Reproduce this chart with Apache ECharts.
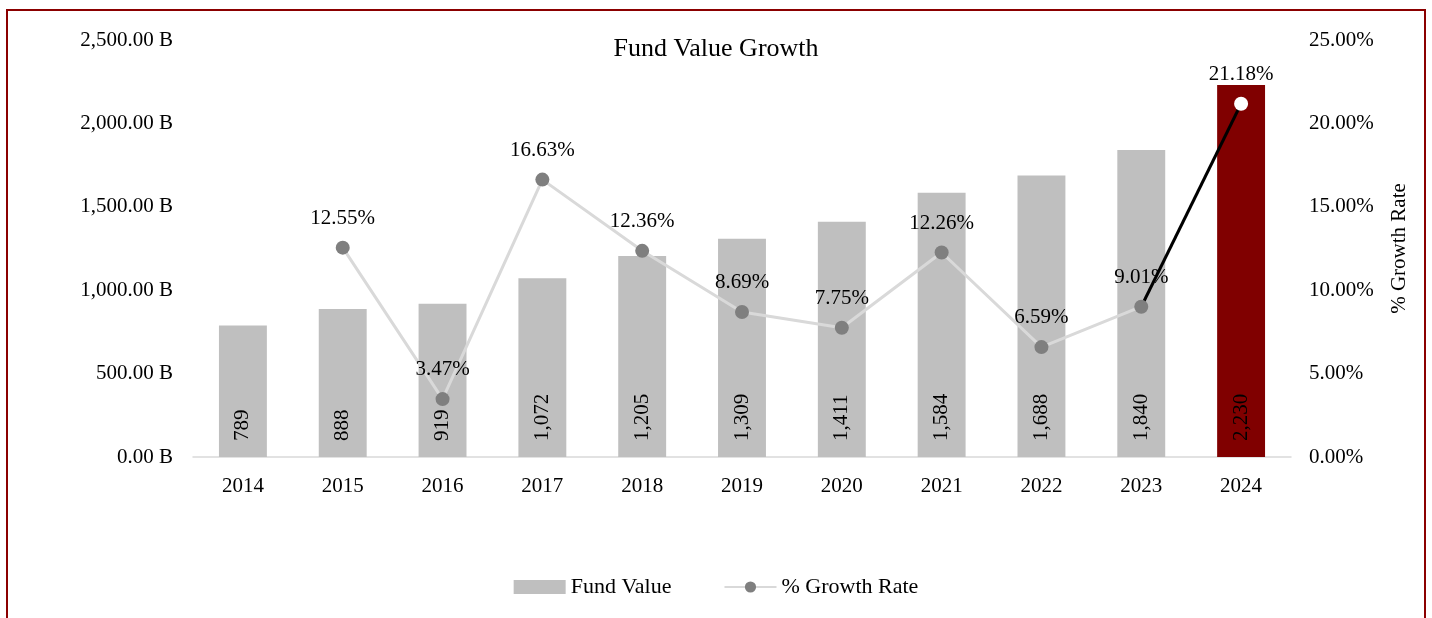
<!DOCTYPE html>
<html>
<head>
<meta charset="utf-8">
<script src="https://cdn.jsdelivr.net/npm/echarts@6/dist/echarts.min.js"></script>
<style>
  html, body { margin: 0; padding: 0; background: #fff; }
  #frame { position: absolute; left: 6px; top: 9px; width: 1416px; height: 700px; border: 2px solid #8b0000; }
  #chart { position: absolute; left: 0; top: 0; width: 1432px; height: 618px; }
</style>
</head>
<body>
<div id="frame"></div>
<div id="chart"></div>
<script>
var years = ['2014','2015','2016','2017','2018','2019','2020','2021','2022','2023','2024'];
var fundValue = [789, 888, 919, 1072, 1205, 1309, 1411, 1584, 1688, 1840, 2230];
var growthRate = [null, 12.55, 3.47, 16.63, 12.36, 8.69, 7.75, 12.26, 6.59, 9.01, 21.18];

var font = 'Liberation Serif';
var last = growthRate.length - 1;

// bars: last year highlighted
var barData = fundValue.map(function (v, i) {
  if (i === last) return { value: v, itemStyle: { color: '#800000' } };
  return v;
});

// gray line up to 2023
var lineData = growthRate.map(function (v, i) {
  return i === last ? null : v;
});
// black segment 2023 -> 2024 with white end point
var lastSeg = growthRate.map(function (v, i) {
  if (i === last - 1) return { value: v, symbol: 'none', label: { show: false } };
  if (i === last) return v;
  return null;
});

var pctLabel = {
  show: true,
  position: 'top',
  distance: 12,
  fontFamily: font,
  fontSize: 21,
  color: '#000',
  formatter: function (p) { return p.value == null ? '' : p.value.toFixed(2) + '%'; }
};

var myChart = echarts.init(document.getElementById('chart'));

var option = {
  textStyle: { fontFamily: font },
  title: {
    text: 'Fund Value Growth',
    left: 'center',
    top: 31,
    textStyle: { fontFamily: font, fontSize: 26, fontWeight: 'normal', color: '#000' }
  },
  legend: {
    bottom: 15,
    left: 'center',
    itemGap: 52,
    itemWidth: 52,
    itemHeight: 14,
    textStyle: { fontFamily: font, fontSize: 22, color: '#000' },
    data: [
      { name: 'Fund Value', icon: 'rect' },
      { name: '% Growth Rate' }
    ]
  },
  grid: { left: 193, right: 141, top: 40, bottom: 161 },
  xAxis: {
    type: 'category',
    data: years,
    axisLine: { lineStyle: { color: '#d9d9d9', width: 1.5 } },
    axisTick: { show: false },
    axisLabel: { fontFamily: font, fontSize: 21, color: '#000', margin: 19 }
  },
  yAxis: [
    {
      type: 'value',
      min: 0,
      max: 2500,
      interval: 500,
      splitLine: { show: false },
      axisLine: { show: false },
      axisLabel: {
        fontFamily: font, fontSize: 21, color: '#000', margin: 20,
        formatter: function (v) {
          return v.toLocaleString('en-US', { minimumFractionDigits: 2, maximumFractionDigits: 2 }) + ' B';
        }
      }
    },
    {
      type: 'value',
      min: 0,
      max: 25,
      interval: 5,
      name: '% Growth Rate',
      nameLocation: 'middle',
      nameGap: 98,
      nameRotate: 90,
      nameTextStyle: { fontFamily: font, fontSize: 21, color: '#000' },
      splitLine: { show: false },
      axisLine: { show: false },
      axisLabel: {
        fontFamily: font, fontSize: 21, color: '#000', margin: 18,
        formatter: function (v) { return v.toFixed(2) + '%'; }
      }
    }
  ],
  series: [
    {
      name: 'Fund Value',
      type: 'bar',
      barWidth: '48%',
      itemStyle: { color: '#bfbfbf' },
      label: {
        show: true,
        position: 'insideBottom',
        rotate: 90,
        align: 'left',
        verticalAlign: 'middle',
        distance: 16,
        fontFamily: font,
        fontSize: 21,
        color: '#000',
        formatter: function (p) { return p.value.toLocaleString('en-US'); }
      },
      data: barData
    },
    {
      name: '% Growth Rate',
      type: 'line',
      yAxisIndex: 1,
      symbol: 'circle',
      symbolSize: 14,
      lineStyle: { color: '#d9d9d9', width: 3 },
      itemStyle: { color: '#7f7f7f' },
      label: pctLabel,
      z: 3,
      data: lineData
    },
    {
      name: 'last',
      type: 'line',
      yAxisIndex: 1,
      symbol: 'circle',
      symbolSize: 14,
      lineStyle: { color: '#000', width: 3 },
      itemStyle: { color: '#ffffff' },
      label: pctLabel,
      z: 2,
      silent: true,
      data: lastSeg
    }
  ]
};

myChart.setOption(option);
</script>
</body>
</html>
